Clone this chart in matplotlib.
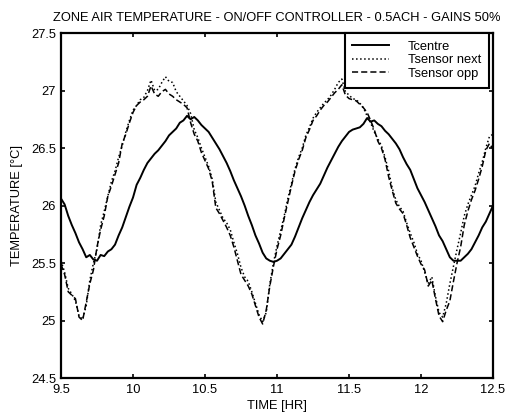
import numpy as np
import matplotlib
matplotlib.use("Agg")
import matplotlib.pyplot as plt

plt.rcParams['font.family'] = ['Liberation Sans', 'DejaVu Sans']

# temps de simulation (h), pas de 0.025 h
temps = np.round(np.arange(9.5, 12.5001, 0.025), 3)

t_centre = [
    26.06, 26.01, 25.91, 25.83, 25.76, 25.68, 25.62, 25.55, 25.57, 25.53,
    25.52, 25.57, 25.56, 25.60, 25.62, 25.66, 25.74, 25.81, 25.90, 25.99,
    26.07, 26.18, 26.24, 26.31, 26.37, 26.41, 26.45, 26.48, 26.52, 26.56,
    26.61, 26.64, 26.67, 26.72, 26.74, 26.78, 26.75, 26.77, 26.74, 26.70,
    26.67, 26.64, 26.59, 26.54, 26.49, 26.43, 26.37, 26.30, 26.22, 26.15,
    26.08, 26.00, 25.91, 25.83, 25.74, 25.67, 25.59, 25.54, 25.52, 25.51,
    25.52, 25.54, 25.58, 25.62, 25.66, 25.73, 25.81, 25.89, 25.96, 26.03,
    26.09, 26.14, 26.19, 26.26, 26.33, 26.39, 26.45, 26.51, 26.56, 26.60,
    26.64, 26.66, 26.67, 26.68, 26.71, 26.76, 26.73, 26.74, 26.71, 26.69,
    26.65, 26.62, 26.58, 26.54, 26.49, 26.42, 26.36, 26.31, 26.23, 26.15,
    26.09, 26.03, 25.96, 25.89, 25.82, 25.74, 25.69, 25.62, 25.55, 25.52,
    25.52, 25.52, 25.55, 25.58, 25.62, 25.68, 25.74, 25.81, 25.86, 25.93,
    26.00,
]

t_sensor_next = [
    25.52, 25.42, 25.28, 25.23, 25.17, 25.04, 25.01, 25.13, 25.35, 25.50,
    25.62, 25.83, 25.95, 26.08, 26.21, 26.30, 26.42, 26.52, 26.64, 26.74,
    26.83, 26.87, 26.92, 26.94, 27.00, 27.09, 27.00, 27.01, 27.07, 27.12,
    27.08, 27.07, 26.99, 26.95, 26.91, 26.87, 26.80, 26.66, 26.59, 26.50,
    26.42, 26.34, 26.23, 26.03, 25.96, 25.89, 25.85, 25.79, 25.68, 25.58,
    25.46, 25.38, 25.34, 25.25, 25.15, 25.05, 24.99, 25.07, 25.32, 25.50,
    25.65, 25.78, 25.91, 26.06, 26.19, 26.32, 26.42, 26.50, 26.61, 26.68,
    26.76, 26.81, 26.85, 26.89, 26.92, 26.96, 27.01, 27.07, 27.10, 26.99,
    26.96, 26.93, 26.92, 26.89, 26.85, 26.78, 26.72, 26.64, 26.58, 26.52,
    26.42, 26.30, 26.15, 26.05, 25.99, 25.95, 25.85, 25.76, 25.68, 25.58,
    25.52, 25.42, 25.32, 25.38, 25.21, 25.07, 25.03, 25.15, 25.32, 25.47,
    25.62, 25.76, 25.91, 26.01, 26.09, 26.17, 26.28, 26.38, 26.50, 26.60,
    26.62,
]

t_sensor_opp = [
    25.49, 25.40, 25.25, 25.22, 25.19, 25.03, 25.00, 25.16, 25.32, 25.44,
    25.64, 25.79, 25.91, 26.08, 26.17, 26.27, 26.37, 26.54, 26.62, 26.72,
    26.81, 26.87, 26.90, 26.92, 26.95, 27.04, 26.97, 26.95, 26.99, 27.01,
    26.97, 26.95, 26.92, 26.90, 26.88, 26.85, 26.72, 26.62, 26.56, 26.46,
    26.39, 26.32, 26.21, 25.98, 25.93, 25.87, 25.81, 25.74, 25.64, 25.52,
    25.40, 25.35, 25.30, 25.23, 25.13, 25.03, 24.97, 25.09, 25.30, 25.47,
    25.62, 25.74, 25.89, 26.03, 26.17, 26.30, 26.40, 26.48, 26.59, 26.66,
    26.74, 26.78, 26.83, 26.87, 26.90, 26.94, 26.98, 27.01, 27.05, 26.96,
    26.93, 26.92, 26.91, 26.88, 26.85, 26.81, 26.74, 26.66, 26.56, 26.50,
    26.40, 26.25, 26.13, 26.02, 25.97, 25.93, 25.83, 25.72, 25.64, 25.56,
    25.49, 25.44, 25.30, 25.35, 25.19, 25.04, 24.99, 25.09, 25.17, 25.34,
    25.50, 25.64, 25.83, 25.95, 26.05, 26.13, 26.23, 26.34, 26.48, 26.54,
    26.49,
]

x_ticks = [9.5, 10, 10.5, 11, 11.5, 12, 12.5]
y_ticks = [24.5, 25, 25.5, 26, 26.5, 27, 27.5]

fig = plt.figure(figsize=(5.06, 4.16), dpi=100)
ax = fig.add_axes([0.1206, 0.0913, 0.8538, 0.8293])

ax.plot(temps, t_centre, color='black', linestyle='-', linewidth=1.4, label='Tcentre')
ax.plot(temps, t_sensor_next, color='black', linestyle=':', linewidth=1.1, label='Tsensor next')
ax.plot(temps, t_sensor_opp, color='black', linestyle=(0, (4, 2)), linewidth=1.1, label='Tsensor opp')

ax.set_xlim(9.5, 12.5)
ax.set_ylim(24.5, 27.5)
ax.set_xticks(x_ticks)
ax.set_xticklabels(['9.5', '10', '10.5', '11', '11.5', '12', '12.5'])
ax.set_yticks(y_ticks)
ax.set_yticklabels(['24.5', '25', '25.5', '26', '26.5', '27', '27.5'])
ax.tick_params(direction='in', top=True, right=True, length=3, width=1.2,
               labelsize=9.3)
ax.tick_params(axis='x', pad=4)
ax.tick_params(axis='y', pad=3.5)
for s in ax.spines.values():
    s.set_linewidth(1.6)

ax.set_title('ZONE AIR TEMPERATURE - ON/OFF CONTROLLER - 0.5ACH - GAINS 50%',
             fontsize=9.3, pad=8.5)
ax.set_xlabel('TIME [HR]', fontsize=9.3, labelpad=3.5)
ax.set_ylabel('TEMPERATURE [°C]', fontsize=9.3, labelpad=6)

leg = ax.legend(loc='upper right', bbox_to_anchor=(0.9907, 1.0), fontsize=9.3,
                fancybox=False, framealpha=1, edgecolor='black',
                handlelength=2.8, borderaxespad=0, borderpad=0.6,
                labelspacing=0.12, handletextpad=1.5)
leg.get_frame().set_linewidth(1.5)

fig.savefig('out.png', dpi=100)
